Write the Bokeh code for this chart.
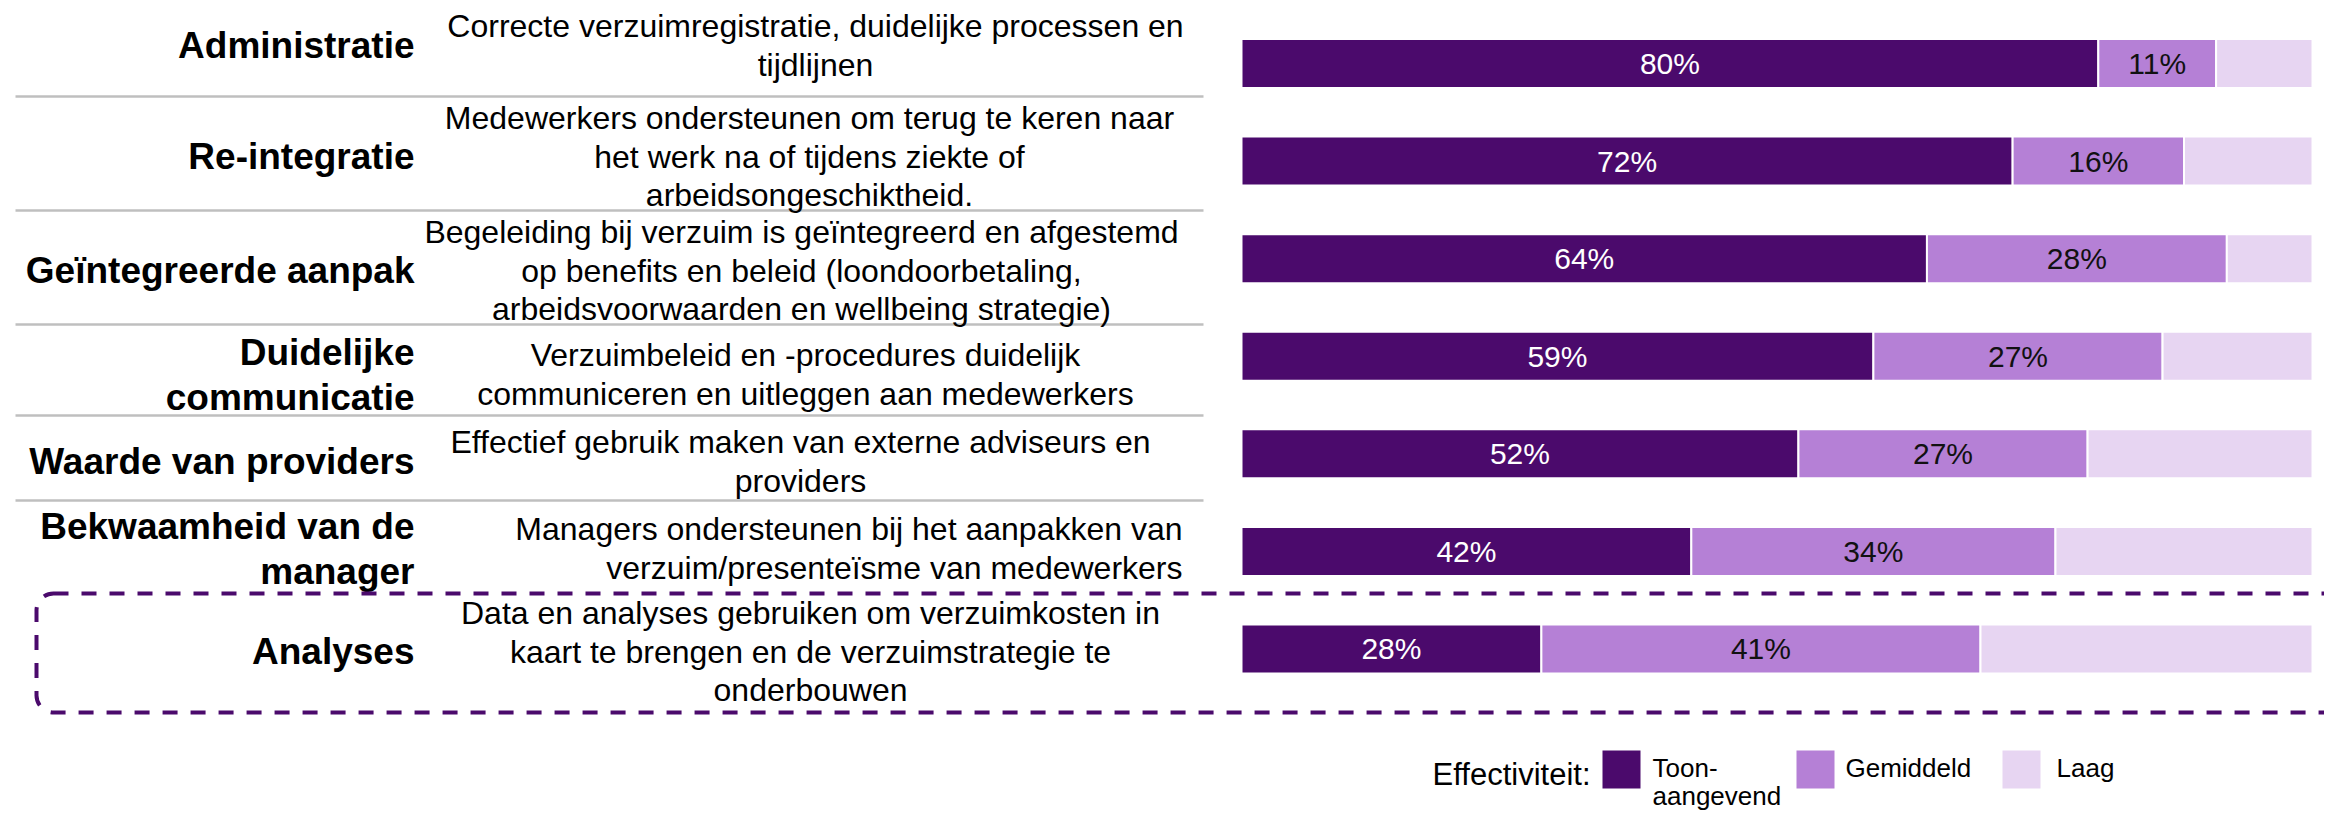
import numpy as np
from bokeh.plotting import figure
from bokeh.models import ColumnDataSource, Range1d, BoxAnnotation
from bokeh.core.properties import value
from bokeh.embed import file_html
from bokeh.resources import INLINE

# ---------------- data ----------------
categories = [
    "Administratie",
    "Re-integratie",
    "Geïntegreerde aanpak",
    "Duidelijke\ncommunicatie",
    "Waarde van providers",
    "Bekwaamheid van de\nmanager",
    "Analyses",
]
descriptions = [
    "Correcte verzuimregistratie, duidelijke processen en\ntijdlijnen",
    "Medewerkers ondersteunen om terug te keren naar\nhet werk na of tijdens ziekte of\narbeidsongeschiktheid.",
    "Begeleiding bij verzuim is geïntegreerd en afgestemd\nop benefits en beleid (loondoorbetaling,\narbeidsvoorwaarden en wellbeing strategie)",
    "Verzuimbeleid en -procedures duidelijk\ncommuniceren en uitleggen aan medewerkers",
    "Effectief gebruik maken van externe adviseurs en\nproviders",
    "Managers ondersteunen bij het aanpakken van\nverzuim/presenteïsme van medewerkers",
    "Data en analyses gebruiken om verzuimkosten in\nkaart te brengen en de verzuimstrategie te\nonderbouwen",
]
toonaangevend = [80, 72, 64, 59, 52, 42, 28]
gemiddeld = [11, 16, 28, 27, 27, 34, 41]
laag = [9, 12, 8, 14, 21, 24, 31]
series_names = ["Toon-\naangevend", "Gemiddeld", "Laag"]
legend_title = "Effectiviteit:"

# ---------------- style / layout ----------------
DARK = "#4B0A6C"
MID = "#B580D6"
LIGHT = "#E7D5F2"
COLORS = [DARK, MID, LIGHT]
BOX = "#4B0A6C"
FONT = value("Liberation Sans")

W, H = 2324, 813
OFF = 0                      # where the figure sits on the page
BAR_X0, BAR_PX = 1241.0, 10.71   # px of 0 %, px per 1 %
ROW_Y0, ROW_PX = 63.0, 97.58     # px of row 0 centre, px per row


def X(px):
    return (px - BAR_X0) / BAR_PX


def Y(px):
    return (px - ROW_Y0) / ROW_PX


TEXT_Y = [45, 156, 270, 374, 461, 548, 651]
LABEL_RIGHT = 414
DESC_X = [815, 809, 801, 805, 800, 1182, 810]
DESC_ALIGN = ["center", "center", "center", "center", "center", "right", "center"]
SEP_Y = [96, 210, 324, 415, 500]

p = figure(width=W, height=H, output_backend="svg", toolbar_location=None,
           x_range=Range1d(X(OFF), X(OFF + W)), y_range=Range1d(Y(OFF + H), Y(OFF)),
           x_axis_type=None, y_axis_type=None, min_border=0)
p.grid.visible = False
p.outline_line_color = None
p.background_fill_color = "white"
p.border_fill_color = "white"

# separators in the text table
p.segment(x0=[X(15)] * len(SEP_Y), x1=[X(1203)] * len(SEP_Y),
          y0=[Y(v) for v in SEP_Y], y1=[Y(v) for v in SEP_Y],
          line_color="#BFBFBF", line_width=2.5)

# stacked bars
rows = list(range(len(categories)))
src = ColumnDataSource(data=dict(row=rows, t=toonaangevend, g=gemiddeld, l=laag))
p.hbar_stack(["t", "g", "l"], y="row", height=49 / ROW_PX, color=COLORS,
             line_color="white", line_width=2, source=src)

# percentage labels
t_arr = np.array(toonaangevend, dtype=float)
g_arr = np.array(gemiddeld, dtype=float)
p.text(x=list(t_arr / 2), y=rows, text=[f"{v}%" for v in toonaangevend],
       text_font=FONT, text_font_size=value("30px"), text_color="white",
       text_align="center", text_baseline="middle")
p.text(x=list(t_arr + g_arr / 2), y=rows, text=[f"{v}%" for v in gemiddeld],
       text_font=FONT, text_font_size=value("30px"), text_color="#111111",
       text_align="center", text_baseline="middle")

# category labels (bold, right aligned)
lx, ly, lt = [], [], []
for i, lab in enumerate(categories):
    lines = lab.split("\n")
    n = len(lines)
    for k, ln in enumerate(lines):
        lx.append(X(LABEL_RIGHT))
        ly.append(Y(TEXT_Y[i] + (k - (n - 1) / 2) * 45))
        lt.append(ln)
p.text(x=lx, y=ly, text=lt, text_font=FONT, text_font_size=value("37px"),
       text_font_style="bold", text_color="black", text_align="right",
       text_baseline="middle")

# descriptions
for align in ("center", "right"):
    dx, dy, dt = [], [], []
    for i, d in enumerate(descriptions):
        if DESC_ALIGN[i] != align:
            continue
        lines = d.split("\n")
        n = len(lines)
        for k, ln in enumerate(lines):
            dx.append(X(DESC_X[i]))
            dy.append(Y(TEXT_Y[i] + (k - (n - 1) / 2) * 38.5))
            dt.append(ln)
    p.text(x=dx, y=dy, text=dt, text_font=FONT, text_font_size=value("32px"),
           text_color="black", text_align=align, text_baseline="middle")

# dashed highlight box round the last row
box = BoxAnnotation(left=X(36), right=X(2345), top=Y(593), bottom=Y(712),
                    fill_color=None, fill_alpha=0, line_color=BOX, line_alpha=1.0,
                    line_width=4, line_dash="15 13", border_radius=17)
p.add_layout(box)

# legend (drawn manually)
p.text(x=[X(1590)], y=[Y(774)], text=[legend_title], text_font=FONT,
       text_font_size=value("31px"), text_color="black", text_align="right",
       text_baseline="middle")
sq_x = [1621, 1815, 2021]
lab_x = [1652, 1845, 2056]
p.rect(x=[X(v) for v in sq_x], y=[Y(769)] * 3, width=38 / BAR_PX, height=38 / ROW_PX,
       fill_color=COLORS, line_color=None)
gx, gy, gt = [], [], []
for j, name in enumerate(series_names):
    for k, ln in enumerate(name.split("\n")):
        gx.append(X(lab_x[j]))
        gy.append(Y(767 + k * 28))
        gt.append(ln)
p.text(x=gx, y=gy, text=gt, text_font=FONT, text_font_size=value("26px"),
       text_color="black", text_align="left", text_baseline="middle")

open("out.html", "w").write(file_html(p, INLINE))
